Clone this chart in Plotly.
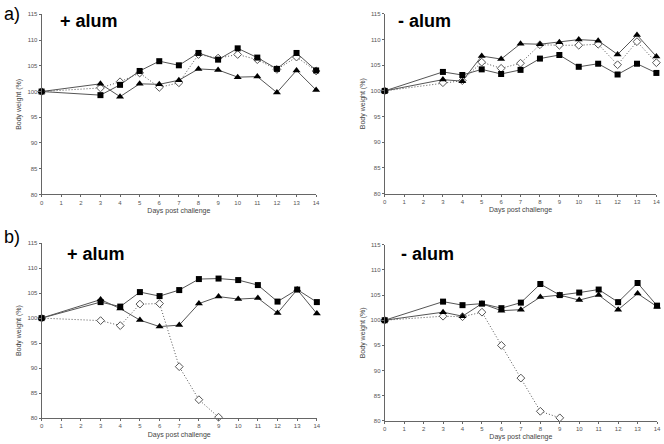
import plotly.graph_objects as go

days = [0, 3, 4, 5, 6, 7, 8, 9, 10, 11, 12, 13, 14]
days_b_open = [0, 3, 4, 5, 6, 7, 8, 9]

# Panel a) + alum
a_plus_square = [100, 99.3, 101.3, 104.0, 105.9, 105.1, 107.5, 106.2, 108.4, 106.6, 104.4, 107.5, 104.1]
a_plus_triangle = [100, 101.5, 99.0, 101.5, 101.4, 102.2, 104.4, 104.2, 102.8, 102.9, 99.8, 104.1, 100.3]
a_plus_diamond = [100, 100.7, 101.9, 103.6, 100.8, 101.7, 107.2, 106.5, 107.2, 106.2, 104.3, 106.7, 104.0]

# Panel a) - alum
a_minus_square = [100, 103.7, 103.1, 104.2, 103.3, 104.1, 106.3, 107.0, 104.7, 105.3, 103.2, 105.3, 103.5]
a_minus_triangle = [100, 102.2, 101.9, 106.8, 106.2, 109.2, 109.1, 109.5, 110.0, 109.8, 107.1, 110.9, 106.7]
a_minus_diamond = [100, 101.6, 102.0, 105.6, 104.4, 105.4, 109.0, 108.9, 108.9, 109.1, 105.1, 109.6, 105.5]

# Panel b) + alum
b_plus_square = [100, 103.2, 102.3, 105.2, 104.4, 105.6, 107.8, 107.9, 107.6, 106.6, 103.3, 105.7, 103.2]
b_plus_triangle = [100, 103.7, 101.9, 99.6, 98.3, 98.6, 102.9, 104.3, 103.8, 104.0, 101.0, 105.7, 100.9]
b_plus_diamond = [100, 99.5, 98.5, 102.8, 102.9, 90.3, 83.7, 80.2]

# Panel b) - alum
b_minus_square = [100, 103.7, 103.0, 103.3, 102.4, 103.5, 107.2, 105.0, 105.5, 106.1, 103.6, 107.4, 102.9]
b_minus_triangle = [100, 101.6, 100.8, 103.3, 101.9, 102.1, 104.6, 105.0, 104.0, 105.0, 102.1, 105.3, 102.7]
b_minus_diamond = [100, 100.8, 100.7, 101.6, 95.0, 88.5, 81.9, 80.6]

panel_titles = ["+ alum", "- alum", "+ alum", "- alum"]
y_ticks = [80, 85, 90, 95, 100, 105, 110, 115]
x_ticks = list(range(0, 15))

LINE = "#555555"
FONT = "Liberation Sans, Arial"
fig = go.Figure()

panels = [
    (a_plus_square, a_plus_triangle, a_plus_diamond, days),
    (a_minus_square, a_minus_triangle, a_minus_diamond, days),
    (b_plus_square, b_plus_triangle, b_plus_diamond, days_b_open),
    (b_minus_square, b_minus_triangle, b_minus_diamond, days_b_open),
]

xdomains = [[0.0602, 0.4774], [0.5816, 0.9945], [0.0602, 0.4785], [0.5816, 0.9955]]
ydomains = [[0.563, 0.974], [0.565, 0.975], [0.052, 0.452], [0.046, 0.448]]

for i, (sq, tri, dia, ddays) in enumerate(panels):
    n = "" if i == 0 else str(i + 1)
    xa, ya = "x" + n, "y" + n
    fig.add_trace(go.Scatter(x=ddays, y=dia, xaxis=xa, yaxis=ya, mode="lines+markers",
                             line=dict(color=LINE, width=1, dash="1px,2px"),
                             marker=dict(symbol="diamond", size=6, color="white",
                                         line=dict(color="#555555", width=1)),
                             showlegend=False, cliponaxis=False))
    fig.add_trace(go.Scatter(x=days, y=tri, xaxis=xa, yaxis=ya, mode="lines+markers",
                             line=dict(color=LINE, width=1),
                             marker=dict(symbol="triangle-up", size=7, color="black"),
                             showlegend=False, cliponaxis=False))
    fig.add_trace(go.Scatter(x=days, y=sq, xaxis=xa, yaxis=ya, mode="lines+markers",
                             line=dict(color=LINE, width=1),
                             marker=dict(symbol="square", size=6, color="black"),
                             showlegend=False, cliponaxis=False))
    axis_common = dict(showgrid=False, zeroline=False, showline=True, linecolor="#666666",
                       linewidth=1, ticks="outside", ticklen=2, tickcolor="#666666",
                       tickfont=dict(family=FONT, size=6, color="#555555"))
    fig.layout["xaxis" + n] = dict(domain=xdomains[i], anchor=ya, range=[0, 14],
                                   tickvals=x_ticks, ticktext=[str(t) for t in x_ticks],
                                   title=dict(text="Days post challenge", standoff=3,
                                              font=dict(family=FONT, size=7, color="#444444")),
                                   **axis_common)
    fig.layout["yaxis" + n] = dict(domain=ydomains[i], anchor=xa, range=[80, 115],
                                   tickvals=y_ticks, ticktext=[str(t) for t in y_ticks],
                                   title=dict(text="Body weight (%)", standoff=4,
                                              font=dict(family=FONT, size=7, color="#444444")),
                                   **axis_common)
    fig.add_annotation(text="<b>" + panel_titles[i] + "</b>", xref="paper", yref="paper",
                       x=[57 / 664, 398 / 664, 64 / 664, 401 / 664][i],
                       y=[1 - 18 / 444, 1 - 18 / 444, 1 - 254 / 444, 1 - 254 / 444][i],
                       xanchor="left", yanchor="middle", showarrow=False,
                       font=dict(family=FONT, size=18, color="black"))

fig.add_annotation(text="a)", xref="paper", yref="paper", x=0, y=1 - 11 / 444,
                   xanchor="left", yanchor="middle", showarrow=False,
                   font=dict(family=FONT, size=18, color="black"))
fig.add_annotation(text="b)", xref="paper", yref="paper", x=0, y=1 - 237 / 444,
                   xanchor="left", yanchor="middle", showarrow=False,
                   font=dict(family=FONT, size=18, color="black"))

fig.update_layout(width=664, height=444, margin=dict(l=0, r=0, t=0, b=0),
                  paper_bgcolor="white", plot_bgcolor="white")
fig.write_html("out.html", config={"displayModeBar": False},
               post_script="document.body.style.margin='0';document.body.style.overflow='hidden';")
